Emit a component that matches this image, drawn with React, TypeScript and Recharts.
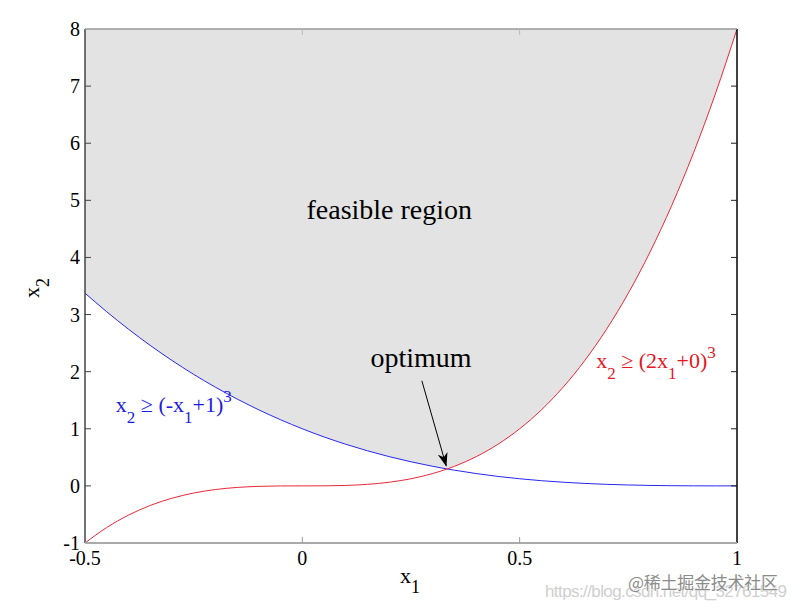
import { ComposedChart, Area, Line, XAxis, YAxis, ReferenceLine } from 'recharts';

// x1 samples, with one extra point at the crossing of the two curves
const x1Values = [
  -0.5, -0.45, -0.4, -0.35, -0.3, -0.25, -0.2, -0.15, -0.1, -0.05,
  0, 0.05, 0.1, 0.15, 0.2, 0.25, 0.3, 0.333, 0.35, 0.4, 0.45,
  0.5, 0.55, 0.6, 0.65, 0.7, 0.75, 0.8, 0.85, 0.9, 0.95, 1,
];

// blue curve: x2 = (-x1+1)^3
const blueX2 = [
  3.375, 3.049, 2.744, 2.46, 2.197, 1.953, 1.728, 1.521, 1.331, 1.158,
  1, 0.857, 0.729, 0.614, 0.512, 0.422, 0.343, 0.296, 0.275, 0.216, 0.166,
  0.125, 0.091, 0.064, 0.043, 0.027, 0.016, 0.008, 0.003, 0.001, 0.0001, 0,
];

// red curve: x2 = (2x1+0)^3
const redX2 = [
  -1, -0.729, -0.512, -0.343, -0.216, -0.125, -0.064, -0.027, -0.008, -0.001,
  0, 0.001, 0.008, 0.027, 0.064, 0.125, 0.216, 0.296, 0.343, 0.512, 0.729,
  1, 1.331, 1.728, 2.197, 2.744, 3.375, 4.096, 4.913, 5.832, 6.859, 8,
];

const xTicks = [-0.5, 0, 0.5, 1];
const yTicks = [-1, 0, 1, 2, 3, 4, 5, 6, 7, 8];
const regionTop = 8;

const data = x1Values.map((x, i) => ({
  x,
  blue: blueX2[i],
  red: redX2[i],
  region: [Math.max(blueX2[i], redX2[i]), regionTop],
}));

const W = 796;
const H = 611;
const LEFT = 85;
const RIGHT = 737;
const TOP = 29;
const BOTTOM = 543;
const serif = '"Liberation Serif", "DejaVu Serif", serif';

// data -> pixel for the annotation overlay
const px = (x: number) => LEFT + ((x + 0.5) / 1.5) * (RIGHT - LEFT);
const py = (y: number) => BOTTOM - ((y + 1) / 9) * (BOTTOM - TOP);

const YTick = ({ y, payload }: any) => (
  <g>
    {payload.value !== -1 && payload.value !== 8 && (
      <>
        <line x1={LEFT} x2={LEFT + 6} y1={y} y2={y} stroke="#444" />
        <line x1={RIGHT - 6} x2={RIGHT} y1={y} y2={y} stroke="#222" />
      </>
    )}
    <text x={LEFT - 5} y={y + 7} textAnchor="end" fontSize={20} fontFamily={serif} fill="#000">
      {payload.value}
    </text>
  </g>
);

const XTick = ({ x, payload }: any) => (
  <g>
    {payload.value !== -0.5 && payload.value !== 1 && (
      <>
        <line x1={x} x2={x} y1={BOTTOM} y2={BOTTOM - 6} stroke="#999" />
        <line x1={x} x2={x} y1={TOP} y2={TOP + 6} stroke="#bbb" />
      </>
    )}
    <text x={x} y={BOTTOM + 22} textAnchor="middle" fontSize={20} fontFamily={serif} fill="#000">
      {payload.value}
    </text>
  </g>
);

export default function App() {
  return (
    <div style={{ position: 'absolute', left: 0, top: 0, width: W, height: H, background: '#fff' }}>
      <ComposedChart
        width={W}
        height={H}
        data={data}
        margin={{ top: TOP, right: W - RIGHT, left: LEFT - 40, bottom: H - BOTTOM - 30 }}
      >
        <XAxis
          dataKey="x"
          type="number"
          domain={[-0.5, 1]}
          ticks={xTicks}
          height={30}
          axisLine={false}
          tickLine={false}
          tick={<XTick />}
          interval={0}
        />
        <YAxis
          type="number"
          domain={[-1, 8]}
          ticks={yTicks}
          width={40}
          axisLine={false}
          tickLine={false}
          tick={<YTick />}
          interval={0}
        />
        <Area
          dataKey="region"
          type="monotone"
          fill="#e3e3e3"
          fillOpacity={1}
          stroke="none"
          isAnimationActive={false}
        />
        <Line dataKey="blue" type="monotone" stroke="#2828f0" strokeWidth={1} dot={false} isAnimationActive={false} />
        <Line dataKey="red" type="monotone" stroke="#e8283a" strokeWidth={1} dot={false} isAnimationActive={false} />
        <ReferenceLine x={-0.5} stroke="#444" strokeWidth={1.5} />
        <ReferenceLine x={1} stroke="#000" strokeWidth={1.5} />
        <ReferenceLine y={8} stroke="#999" strokeWidth={1.5} />
        <ReferenceLine y={-1} stroke="#aaa" strokeWidth={2} />
      </ComposedChart>

      <svg width={W} height={H} style={{ position: 'absolute', left: 0, top: 0, pointerEvents: 'none' }}>
        <defs>
          <marker id="head" markerWidth="14" markerHeight="10" refX="13" refY="5" orient="auto" markerUnits="userSpaceOnUse">
            <path d="M0,0 L14,5 L0,10 L4,5 Z" fill="#000" />
          </marker>
        </defs>

        <text x={px(0.2)} y={py(4.67)} textAnchor="middle" fontSize={28} fontFamily={serif} fill="#000">
          feasible region
        </text>
        <text x={px(0.273)} y={py(2.08)} textAnchor="middle" fontSize={28} fontFamily={serif} fill="#000">
          optimum
        </text>
        <line
          x1={px(0.275)} y1={py(1.84)} x2={px(0.331)} y2={py(0.35)}
          stroke="#000" strokeWidth={1} markerEnd="url(#head)"
        />

        <text x={px(0.676)} y={py(2.064)} fontSize={22} fontFamily={serif} fill="#e8161e">
          x<tspan fontSize={17} dy={11}>2</tspan>
          <tspan dy={-11}> ≥ (2x</tspan>
          <tspan fontSize={17} dy={11}>1</tspan>
          <tspan dy={-11}>+0)</tspan>
          <tspan fontSize={17} dy={-10}>3</tspan>
        </text>

        <text x={px(-0.429)} y={py(1.294)} fontSize={22} fontFamily={serif} fill="#1c1ce6">
          x<tspan fontSize={17} dy={11}>2</tspan>
          <tspan dy={-11}> ≥ (-x</tspan>
          <tspan fontSize={17} dy={11}>1</tspan>
          <tspan dy={-11}>+1)</tspan>
          <tspan fontSize={17} dy={-10}>3</tspan>
        </text>

        <text x={400} y={583} fontSize={22} fontFamily={serif} fill="#000">
          x<tspan fontSize={18} dy={10}>1</tspan>
        </text>
        <text transform="translate(39,298) rotate(-90)" fontSize={22} fontFamily={serif} fill="#000">
          x<tspan fontSize={18} dy={10}>2</tspan>
        </text>

        <text x={545} y={597} fontSize={17} fontFamily='"Liberation Sans", sans-serif' fill="#cfcfcf" textLength={242}>
          https://blog.csdn.net/qq_32761549
        </text>
        <text
          x={628} y={589} fontSize={17} fontFamily='"Noto Sans CJK SC", sans-serif' fill="#8c8c8c"
          stroke="#fff" strokeWidth={0.6} paintOrder="stroke" textLength={150}
        >
          @稀土掘金技术社区
        </text>
      </svg>
    </div>
  );
}
